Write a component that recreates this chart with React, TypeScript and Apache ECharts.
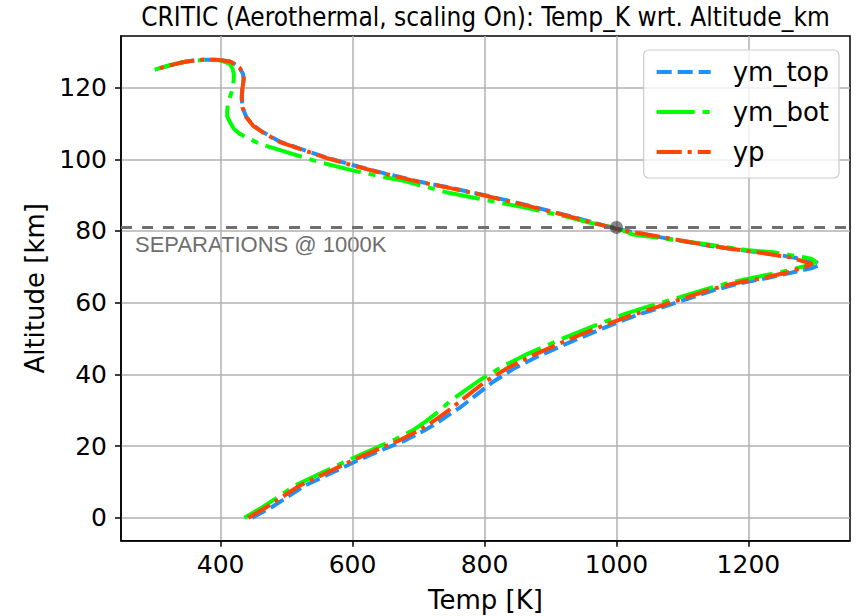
import React, { useEffect, useRef } from "react";
import * as echarts from "echarts";

const seriesNames = ["ym_top", "ym_bot", "yp"];

const ymTop: number[][] = [
  [448, 0], [478, 3], [528, 9], [568, 12.5], [608, 16], [648, 19.2], [680, 21.6], [708, 24.3],
  [726, 26.2], [750, 29.2], [764, 30.9], [787, 34.2], [812, 37.8], [846, 41.8], [884, 45.3],
  [936, 49.5], [984, 53.2], [1030, 56.5], [1070, 58.8], [1108, 61.1], [1148, 63.5], [1184, 65.3],
  [1234, 67.1], [1268, 68.5], [1295, 69.6], [1309, 70.6], [1300, 71.6], [1250, 73.2], [1200, 74.4],
  [1140, 75.9], [1080, 77.8], [1030, 79.5], [1000, 80.6], [960, 82.6], [924, 84.4], [860, 87.4],
  [800, 90.0], [750, 92.0], [700, 93.8], [650, 96.0], [600, 98.4], [560, 100.5], [520, 103.0],
  [490, 104.9], [464, 107.6], [449, 109.5], [439, 111.8], [433, 114.5], [432, 117.3], [433, 119.6],
  [435, 122.4], [434, 123.8], [429, 125.5], [421, 126.6], [414, 127.3], [394, 127.8],
  [373, 127.8], [348, 127.3], [323, 126.2], [300, 125],
];

const ymBot: number[][] = [
  [436, 0], [464, 3], [514, 9.1], [554, 12.6], [594, 16.1], [634, 19.4], [665, 21.9], [694, 24.7],
  [711, 26.9], [733, 30.0], [746, 32.3], [768, 35.2], [793, 38.4], [828, 42.3], [866, 45.8],
  [918, 50.0], [968, 53.7], [1015, 57], [1055, 59.3], [1095, 61.5], [1136, 63.8], [1172, 65.6],
  [1222, 67.5], [1258, 68.9], [1285, 70.2], [1303, 71.3], [1295, 72.3], [1237, 74.1], [1200, 74.6],
  [1126, 76.6], [1075, 77.8], [1040, 78.7], [1025, 79], [1012, 80], [1000, 80.8], [960, 82.3],
  [924, 84], [860, 86.6], [792, 89], [740, 90.9], [676, 94.1], [640, 95.3], [600, 96.9],
  [550, 99.2], [500, 102], [459, 104.3], [429, 107.1], [420, 108.5], [414, 110.4], [410, 112],
  [410, 113.6], [411, 115.5], [414, 117.3], [417, 119], [419, 120.6], [420, 122.5], [420, 123.8],
  [418, 125.3], [414, 126.6], [400, 127.6], [380, 127.8], [360, 127.5], [340, 127], [320, 126.1],
  [300, 125],
];

const yp: number[][] = [
  [442, 0], [470, 3], [520, 9], [560, 12.5], [600, 16], [640, 19.2], [671, 21.6], [700, 24.3],
  [717, 26.2], [740, 29.2], [752, 30.9], [775, 34.2], [800, 37.8], [835, 41.8], [873, 45.3],
  [925, 49.5], [974, 53.2], [1020, 56.3], [1060, 58.7], [1100, 61.1], [1140, 63.5], [1176, 65.3],
  [1227, 67.1], [1260, 68.5], [1285, 69.9], [1297, 70.9], [1287, 71.3], [1262, 72.7], [1212, 74.1],
  [1175, 75.0], [1126, 76.4], [1075, 78.1], [1025, 79.7], [1000, 80.6], [960, 82.5], [924, 84.3],
  [860, 87.3], [800, 89.9], [750, 91.9], [700, 93.7], [650, 95.9], [600, 98.3], [560, 100.4],
  [520, 102.9], [490, 104.8], [464, 107.5], [449, 109.4], [439, 111.7], [433, 114.5], [432, 117.3],
  [433, 119.6], [435, 122.4], [434, 123.8], [429, 125.5], [421, 126.6], [414, 127.3],
  [394, 127.8], [373, 127.8], [348, 127.3], [323, 126.2], [300, 125],
];

const separationAlt = 81;
const separationPoint: number[][] = [[1000, 81]];
const separationText = "SEPARATIONS @ 1000K";

const xTicks = [400, 600, 800, 1000, 1200];
const yTicks = [0, 20, 40, 60, 80, 100, 120];
const xRange = [249, 1354];
const yRange = [-6.4, 134.4];

const titleText = "CRITIC (Aerothermal, scaling On): Temp_K wrt. Altitude_km";
const xName = "Temp [K]";
const yName = "Altitude [km]";

const FONT = "DejaVu Sans";

export default function App() {
  const ref = useRef<HTMLDivElement>(null);
  useEffect(() => {
    if (!ref.current) return;
    const chart = echarts.init(ref.current, undefined, { renderer: "svg" });
    const axisCommon = {
      axisLine: { show: true, onZero: false, lineStyle: { color: "#000", width: 1.5 } },
      splitLine: { show: true, lineStyle: { color: "#b0b0b0", width: 1.5 } },
    };
    const fmt = (v: number) => String(Math.round(v));
    chart.setOption({
      animation: false,
      backgroundColor: "#fff",
      grid: {
        left: 121,
        right: 6,
        top: 36,
        bottom: 75.3,
        show: true,
        borderColor: "#000",
        borderWidth: 1.5,
        backgroundColor: "transparent",
        containLabel: false,
        outerBoundsMode: "none",
      },
      xAxis: {
        type: "value",
        min: xRange[0],
        max: xRange[1],
        splitNumber: 5,
        ...axisCommon,
        axisTick: { show: true, length: 6, lineStyle: { color: "#000", width: 1.5 }, customValues: xTicks },
        axisLabel: { customValues: xTicks, formatter: fmt, fontSize: 25, color: "#000", fontFamily: FONT, margin: 11 },
        name: xName,
        nameLocation: "middle",
        nameGap: 46,
        nameTextStyle: { fontSize: 26, color: "#000", fontFamily: FONT },
      },
      yAxis: {
        type: "value",
        min: yRange[0],
        max: yRange[1],
        splitNumber: 7,
        ...axisCommon,
        axisTick: { show: true, length: 6, lineStyle: { color: "#000", width: 1.5 }, customValues: yTicks },
        axisLabel: { customValues: yTicks, formatter: fmt, fontSize: 25, color: "#000", fontFamily: FONT, margin: 14 },
        name: yName,
        nameLocation: "middle",
        nameGap: 72,
        nameTextStyle: { fontSize: 26, color: "#000", fontFamily: FONT },
      },
      legend: {
        orient: "vertical",
        right: 17,
        top: 50,
        itemWidth: 54,
        itemHeight: 14,
        itemGap: 10,
        padding: [7, 10, 11, 11],
        backgroundColor: "rgba(255,255,255,0.8)",
        borderColor: "#cccccc",
        borderWidth: 1.2,
        borderRadius: 5,
        itemStyle: { opacity: 0 },
        lineStyle: { width: 4 },
        textStyle: { fontSize: 26, lineHeight: 30, fontFamily: FONT, color: "#000", padding: [0, 0, 0, 17] },
        data: seriesNames,
      },
      graphic: [
        {
          type: "text",
          x: 485.5,
          y: 17,
          style: {
            text: titleText,
            fontSize: 26,
            fontFamily: "DejaVu Sans Condensed, DejaVu Sans",
            fill: "#000",
            align: "center",
            verticalAlign: "middle",
          },
        },
        {
          type: "text",
          x: 135,
          y: 244,
          style: {
            text: separationText,
            fontSize: 22,
            fontFamily: "Liberation Sans",
            fill: "#6e6e6e",
            align: "left",
            verticalAlign: "middle",
          },
        },
      ],
      series: [
        {
          name: seriesNames[0],
          type: "line",
          data: ymTop,
          symbol: "none",
          lineStyle: { color: "#1e90ff", width: 4, type: [15, 6] },
          itemStyle: { color: "#1e90ff" },
          z: 2,
          markLine: {
            silent: true,
            symbol: "none",
            label: { show: false },
            lineStyle: { color: "#6f6f6f", width: 3, type: [11, 10] },
            data: [{ yAxis: separationAlt }],
          },
        },
        {
          name: seriesNames[1],
          type: "line",
          data: ymBot,
          symbol: "none",
          lineStyle: { color: "#00ff00", width: 4, type: [38, 8, 7, 8] },
          itemStyle: { color: "#00ff00" },
          z: 3,
        },
        {
          name: seriesNames[2],
          type: "line",
          data: yp,
          symbol: "none",
          lineStyle: { color: "#ff4500", width: 4, type: [25, 6, 4, 6] },
          itemStyle: { color: "#ff4500" },
          z: 4,
        },
        {
          name: "separation",
          type: "scatter",
          data: separationPoint,
          symbol: "circle",
          symbolSize: 13,
          itemStyle: { color: "rgba(40,40,40,0.7)" },
          z: 6,
        },
      ],
    });
    return () => chart.dispose();
  }, []);
  return (
    <div
      ref={ref}
      style={{ position: "fixed", left: 0, top: 0, width: 856, height: 616 }}
    />
  );
}
